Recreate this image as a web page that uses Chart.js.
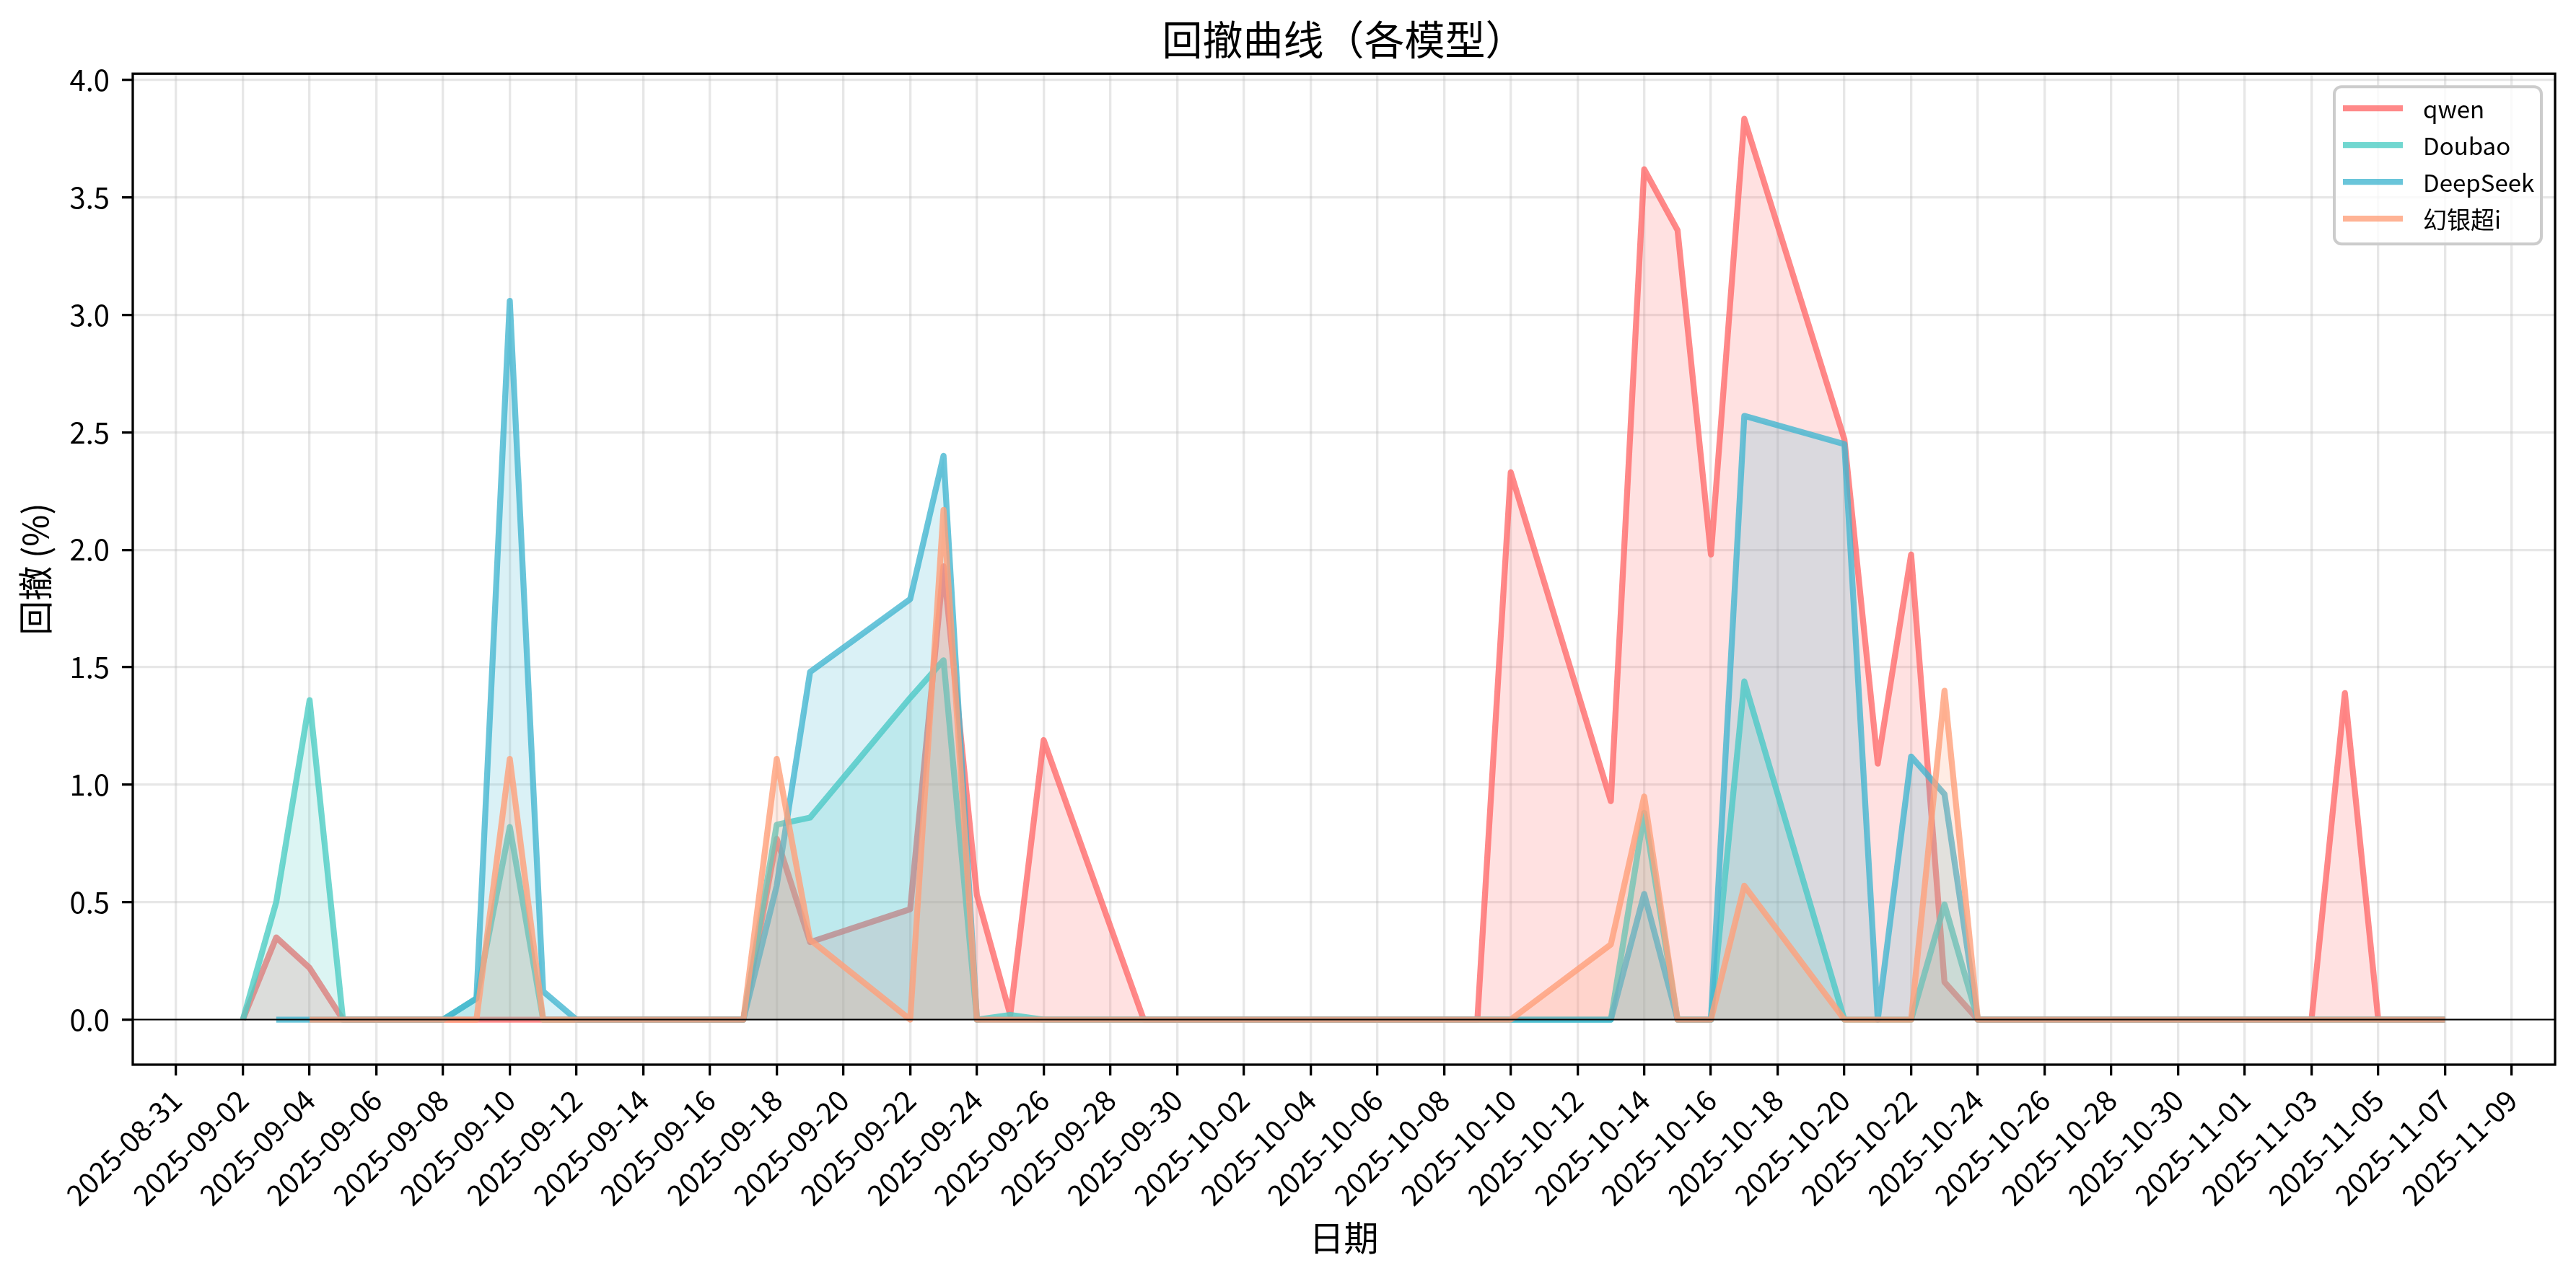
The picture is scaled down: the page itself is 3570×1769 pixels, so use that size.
<!DOCTYPE html>
<html>
<head>
<meta charset="utf-8">
<title>回撤曲线（各模型）</title>
<script src="https://cdn.jsdelivr.net/npm/chart.js@4.4.1/dist/chart.umd.min.js"></script>
<style>
  html, body { margin: 0; padding: 0; background: #fff; }
  canvas { display: block; }
</style>
</head>
<body>
<canvas id="graficoDrawdown" width="3570" height="1769"></canvas>
<script>
// dias de negociação (sem fins de semana / feriado de outubro)
const datas = [
  '2025-09-02', '2025-09-03', '2025-09-04', '2025-09-05',
  '2025-09-08', '2025-09-09', '2025-09-10', '2025-09-11', '2025-09-12',
  '2025-09-15', '2025-09-16', '2025-09-17', '2025-09-18', '2025-09-19',
  '2025-09-22', '2025-09-23', '2025-09-24', '2025-09-25', '2025-09-26',
  '2025-09-29', '2025-09-30',
  '2025-10-09', '2025-10-10',
  '2025-10-13', '2025-10-14', '2025-10-15', '2025-10-16', '2025-10-17',
  '2025-10-20', '2025-10-21', '2025-10-22', '2025-10-23', '2025-10-24',
  '2025-10-27', '2025-10-28', '2025-10-29', '2025-10-30', '2025-10-31',
  '2025-11-03', '2025-11-04', '2025-11-05', '2025-11-06', '2025-11-07'
];

// drawdown (%) de cada modelo, null = sem dado
const qwen = [
  0, 0.35, 0.22, 0,
  0, 0, 0, 0, 0,
  0, 0, 0, 0.77, 0.33,
  0.47, 1.93, 0.53, 0.02, 1.19,
  0, 0,
  0, 2.33,
  0.93, 3.62, 3.36, 1.98, 3.835,
  2.47, 1.09, 1.98, 0.16, 0,
  0, 0, 0, 0, 0,
  0, 1.39, 0, 0, 0
];
const doubao = [
  0, 0.5, 1.36, 0,
  0, 0.09, 0.82, 0, 0,
  0, 0, 0, 0.83, 0.86,
  1.37, 1.53, 0, 0.02, 0,
  0, 0,
  0, 0,
  0, 0.88, 0, 0, 1.44,
  0, 0, 0, 0.49, 0,
  0, 0, 0, 0, 0,
  0, 0, 0, 0, 0
];
const deepseek = [
  null, 0, 0, 0,
  0, 0.09, 3.06, 0.12, 0,
  0, 0, 0, 0.57, 1.48,
  1.79, 2.40, 0, 0, 0,
  0, 0,
  0, 0,
  0, 0.535, 0, 0, 2.57,
  2.45, 0, 1.12, 0.96, 0,
  0, 0, 0, 0, 0,
  0, 0, 0, 0, 0
];
const huanyin = [
  null, null, 0, 0,
  0, 0, 1.11, 0, 0,
  0, 0, 0, 1.11, 0.34,
  0, 2.17, 0, 0, 0,
  0, 0,
  0, 0,
  0.32, 0.95, 0, 0, 0.57,
  0, 0, 0, 1.40, 0,
  0, 0, 0, 0, 0,
  0, 0, 0, 0, 0
];

const nomesModelos = ['qwen', 'Doubao', 'DeepSeek', '幻银超i'];

// rótulos do eixo x (a cada 2 dias)
const rotulosX = [
  '2025-08-31', '2025-09-02', '2025-09-04', '2025-09-06', '2025-09-08', '2025-09-10',
  '2025-09-12', '2025-09-14', '2025-09-16', '2025-09-18', '2025-09-20', '2025-09-22',
  '2025-09-24', '2025-09-26', '2025-09-28', '2025-09-30', '2025-10-02', '2025-10-04',
  '2025-10-06', '2025-10-08', '2025-10-10', '2025-10-12', '2025-10-14', '2025-10-16',
  '2025-10-18', '2025-10-20', '2025-10-22', '2025-10-24', '2025-10-26', '2025-10-28',
  '2025-10-30', '2025-11-01', '2025-11-03', '2025-11-05', '2025-11-07', '2025-11-09'
];
const ticksY = [0, 0.5, 1.0, 1.5, 2.0, 2.5, 3.0, 3.5, 4.0];

// dias contados a partir de 2025-08-31
function diaDoEixo(dataISO) {
  const [a, m, d] = dataISO.split('-').map(Number);
  return (Date.UTC(a, m - 1, d) - Date.UTC(2025, 7, 31)) / 86400000;
}

const cores = ['255,107,107', '78,205,196', '69,183,209', '255,160,122'];
const series = [qwen, doubao, deepseek, huanyin];

const datasets = series.map((serie, i) => ({
  label: nomesModelos[i],
  data: datas.map((d, j) => ({ x: diaDoEixo(d), y: serie[j] })),
  borderColor: `rgba(${cores[i]},0.8)`,
  backgroundColor: `rgba(${cores[i]},0.2)`,
  borderWidth: 8.3,
  borderJoinStyle: 'round',
  fill: 'origin',
  pointRadius: 0,
  tension: 0,
  spanGaps: false,
  order: series.length - i
}));

// margens de 5% como no matplotlib
const xs = datas.map(diaDoEixo);
const xMin = Math.min(...xs), xMax = Math.max(...xs);
const todosY = series.flat().filter(v => v !== null);
const yMin = Math.min(...todosY), yMax = Math.max(...todosY);
const mx = (xMax - xMin) * 0.05, my = (yMax - yMin) * 0.05;

Chart.defaults.font.family = "'Noto Sans CJK SC', 'Noto Sans', sans-serif";
Chart.defaults.color = '#000';

// moldura, linha do zero e legenda dentro da área
const molduraPlugin = {
  id: 'moldura',
  afterDatasetsDraw(chart) {
    const { ctx, chartArea: a, scales } = chart;
    ctx.save();
    const y0 = scales.y.getPixelForValue(0);
    ctx.strokeStyle = '#000';
    ctx.lineWidth = 2;
    ctx.beginPath();
    ctx.moveTo(a.left, y0);
    ctx.lineTo(a.right, y0);
    ctx.stroke();
    ctx.lineWidth = 3.3;
    ctx.strokeRect(a.left, a.top, a.right - a.left, a.bottom - a.top);
    ctx.restore();
  },
  afterDraw(chart) {
    const { ctx, chartArea: a } = chart;
    const w = 287, h = 218;
    const left = a.right - 19 - w, top = a.top + 18;
    ctx.save();
    ctx.fillStyle = 'rgba(255,255,255,0.8)';
    ctx.strokeStyle = '#cccccc';
    ctx.lineWidth = 4;
    ctx.beginPath();
    ctx.roundRect(left, top, w, h, 10);
    ctx.fill();
    ctx.stroke();
    ctx.font = "33px 'Noto Sans CJK SC', sans-serif";
    ctx.textBaseline = 'middle';
    ctx.textAlign = 'left';
    chart.data.datasets.forEach((ds, i) => {
      const cy = top + 30 + i * 51;
      ctx.strokeStyle = ds.borderColor;
      ctx.lineWidth = 8.3;
      ctx.beginPath();
      ctx.moveTo(left + 12, cy);
      ctx.lineTo(left + 95, cy);
      ctx.stroke();
      ctx.fillStyle = '#000';
      ctx.fillText(ds.label, left + 123, cy + 1);
    });
    ctx.restore();
  }
};

const ctx = document.getElementById('graficoDrawdown').getContext('2d');

const grafico = new Chart(ctx, {
  type: 'line',
  data: { datasets },
  options: {
    responsive: false,
    devicePixelRatio: 1,
    animation: false,
    layout: { padding: { left: 0, right: 29, top: 0, bottom: 0 } },
    plugins: {
      legend: { display: false },
      tooltip: { enabled: false },
      title: {
        display: true,
        text: '回撤曲线（各模型）',
        fullSize: false,
        font: { size: 56, weight: 'normal', lineHeight: 1.2 },
        padding: { top: 21, bottom: 14 }
      }
    },
    scales: {
      x: {
        type: 'linear',
        min: xMin - mx,
        max: xMax + mx,
        afterBuildTicks: scale => {
          scale.ticks = rotulosX.map(r => ({ value: diaDoEixo(r) }));
        },
        afterFit: scale => {
          scale.height = 293;
          scale.paddingLeft = 0;
          scale.paddingRight = 0;
        },
        ticks: {
          autoSkip: false,
          minRotation: 45,
          maxRotation: 45,
          padding: 10,
          font: { size: 40 },
          callback: (valor, i) => rotulosX[i]
        },
        grid: {
          color: 'rgba(176,176,176,0.3)',
          lineWidth: 3.3,
          tickLength: 15,
          tickColor: '#000',
          tickWidth: 3.3
        },
        border: { display: false },
        title: {
          display: true,
          text: '日期',
          font: { size: 48, lineHeight: 1.2 },
          padding: { top: 0, bottom: 24 }
        }
      },
      y: {
        min: yMin - my,
        max: yMax + my,
        afterBuildTicks: scale => {
          scale.ticks = ticksY.map(v => ({ value: v }));
        },
        afterFit: scale => {
          scale.width = 184;
          scale.paddingTop = 0;
          scale.paddingBottom = 0;
        },
        ticks: {
          padding: 17,
          font: { size: 40 },
          callback: valor => valor.toFixed(1)
        },
        grid: {
          color: 'rgba(176,176,176,0.3)',
          lineWidth: 3.3,
          tickLength: 15,
          tickColor: '#000',
          tickWidth: 3.3
        },
        border: { display: false },
        title: {
          display: true,
          text: '回撤 (%)',
          font: { size: 48, lineHeight: 1.2 },
          padding: { top: 20, bottom: 0 }
        }
      }
    }
  },
  plugins: [molduraPlugin]
});
</script>
</body>
</html>
